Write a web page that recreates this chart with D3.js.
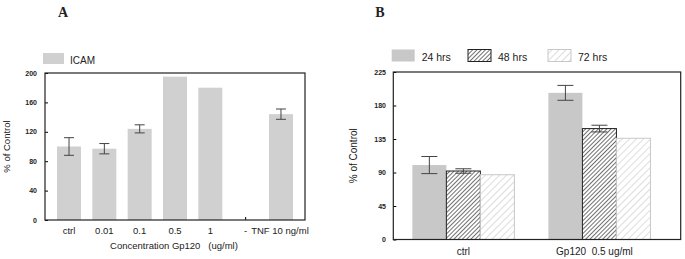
<!DOCTYPE html>
<html>
<head>
<meta charset="utf-8">
<script src="https://cdn.jsdelivr.net/npm/d3@7"></script>
<style>
  body { margin: 0; background: #fff; }
  svg text { font-family: "Liberation Sans", Arial, sans-serif; fill: #222; }
</style>
</head>
<body>
<svg id="chart" width="685" height="259"></svg>
<script>
// Panel A data
var catsA = ["ctrl", "0.01", "0.1", "0.5", "1", "-", "TNF 10 ng/ml"];
var valsA = [100, 97, 124, 195, 180, null, 144];
var errA = [12, 7, 5.5, null, null, null, 7];
var ticksA = [0, 40, 80, 120, 160, 200];

// Panel B data
var groupsB = ["ctrl", "Gp120  0.5 ug/ml"];
var seriesB = ["24 hrs", "48 hrs", "72 hrs"];
var vals24 = [100, 197];
var vals48 = [92, 149];
var vals72 = [87, 136];
var err24 = [11.5, 10];
var err48 = [3, 4.5];
var err72 = [null, null];
var ticksB = [0, 45, 90, 135, 180, 225];

var svg = d3.select("#chart");
var defs = svg.append("defs");

// hatch patterns
var p48 = defs.append("pattern").attr("id", "hatch48")
    .attr("patternUnits", "userSpaceOnUse").attr("width", 3).attr("height", 3)
    .attr("patternTransform", "rotate(45)");
p48.append("rect").attr("width", 3).attr("height", 3).attr("fill", "#fff");
p48.append("line").attr("x1", 0).attr("y1", 0).attr("x2", 0).attr("y2", 3)
    .attr("stroke", "#333").attr("stroke-width", 1.4);

var p72 = defs.append("pattern").attr("id", "hatch72")
    .attr("patternUnits", "userSpaceOnUse").attr("width", 5).attr("height", 5)
    .attr("patternTransform", "rotate(45)");
p72.append("rect").attr("width", 5).attr("height", 5).attr("fill", "#fff");
p72.append("line").attr("x1", 0).attr("y1", 0).attr("x2", 0).attr("y2", 5)
    .attr("stroke", "#bbb").attr("stroke-width", 1);

// ---------- Panel A ----------
var aLeft = 45, aRight = 305, aTop = 73, aBottom = 220;

var xA = d3.scaleBand()
    .domain(catsA)
    .range([aLeft, aRight])
    .paddingInner(0.32)
    .paddingOuter(0.34);

var yA = d3.scaleLinear().domain([0, 200]).range([aBottom, aTop]);

svg.append("text").attr("x", 63).attr("y", 17)
    .attr("text-anchor", "middle")
    .style("font-family", "'Liberation Serif', serif")
    .style("font-weight", "bold").style("font-size", "14px")
    .text("A");

// y axis with inward ticks
svg.append("g")
    .attr("transform", "translate(" + aLeft + ",0)")
    .call(d3.axisRight(yA).tickValues(ticksA).tickSize(3).tickFormat(""))
    .call(function(g) { g.select(".domain").remove(); });

svg.append("g").selectAll("text.ya")
    .data(ticksA).enter().append("text")
    .attr("x", 37).attr("y", function(d) { return yA(d) + 2.5; })
    .attr("text-anchor", "end")
    .style("font-size", "7px").style("font-weight", "bold")
    .text(function(d) { return d; });

// x tick (the empty slot shows one)
svg.append("g")
    .attr("transform", "translate(0," + aBottom + ")")
    .call(d3.axisTop(xA).tickSize(3).tickFormat(""))
    .call(function(g) { g.select(".domain").remove(); });

svg.append("g")
    .selectAll("rect")
    .data(catsA.filter(function(c, i) { return valsA[i] != null; }))
    .enter().append("rect")
    .attr("x", function(d) { return xA(d); })
    .attr("width", xA.bandwidth())
    .attr("y", function(d) { return yA(valsA[catsA.indexOf(d)]); })
    .attr("height", function(d) { return aBottom - yA(valsA[catsA.indexOf(d)]); })
    .attr("fill", "#d0d0d0");

// error bars A
catsA.forEach(function(c, i) {
    if (errA[i] == null) return;
    var cx = xA(c) + xA.bandwidth() / 2;
    var g = svg.append("g").attr("stroke", "#444").attr("stroke-width", 1);
    g.append("line").attr("x1", cx).attr("x2", cx)
        .attr("y1", yA(valsA[i] + errA[i])).attr("y2", yA(valsA[i] - errA[i]));
    [valsA[i] + errA[i], valsA[i] - errA[i]].forEach(function(v) {
        g.append("line").attr("x1", cx - 5).attr("x2", cx + 5)
            .attr("y1", yA(v)).attr("y2", yA(v));
    });
});

// frame A
svg.append("rect")
    .attr("x", aLeft).attr("y", aTop)
    .attr("width", aRight - aLeft).attr("height", aBottom - aTop)
    .attr("fill", "none").attr("stroke", "#222").attr("stroke-width", 1.2);

// x labels A
svg.append("g").selectAll("text")
    .data(catsA).enter().append("text")
    .attr("x", function(d) { return xA(d) + xA.bandwidth() / 2 + (d.indexOf("TNF") === 0 ? -1 : 0); })
    .attr("y", 234)
    .attr("text-anchor", "middle")
    .style("font-size", "9.5px")
    .text(function(d) { return d; });

svg.append("text").attr("x", 174).attr("y", 249)
    .attr("text-anchor", "middle").style("font-size", "9.5px")
    .attr("xml:space", "preserve")
    .text("Concentration Gp120   (ug/ml)");

svg.append("text")
    .attr("transform", "translate(10," + ((aTop + aBottom) / 2) + ") rotate(-90)")
    .attr("text-anchor", "middle").style("font-size", "9.5px")
    .text("% of Control");

// legend A
svg.append("rect").attr("x", 43).attr("y", 53).attr("width", 21).attr("height", 11)
    .attr("fill", "#d0d0d0");
svg.append("text").attr("x", 70).attr("y", 64).style("font-size", "10px").text("ICAM");

// ---------- Panel B ----------
var bLeft = 393.3, bRight = 680.7, bTop = 72, bBottom = 239.5;

var x0B = d3.scaleBand()
    .domain(groupsB)
    .range([bLeft, 669.5])
    .paddingInner(0.25)
    .paddingOuter(0.14);

var x1B = d3.scaleBand()
    .domain(seriesB)
    .range([0, x0B.bandwidth()]);

var yB = d3.scaleLinear().domain([0, 225]).range([bBottom, bTop]);

var valsB = { "24 hrs": vals24, "48 hrs": vals48, "72 hrs": vals72 };
var errB = { "24 hrs": err24, "48 hrs": err48, "72 hrs": err72 };
var fillB = { "24 hrs": "#c8c8c8", "48 hrs": "url(#hatch48)", "72 hrs": "url(#hatch72)" };
var strokeB = { "24 hrs": "none", "48 hrs": "#222", "72 hrs": "#c8c8c8" };

svg.append("text").attr("x", 380).attr("y", 17)
    .attr("text-anchor", "middle")
    .style("font-family", "'Liberation Serif', serif")
    .style("font-weight", "bold").style("font-size", "14px")
    .text("B");

svg.append("g")
    .attr("transform", "translate(" + bLeft + ",0)")
    .call(d3.axisRight(yB).tickValues(ticksB).tickSize(3).tickFormat(""))
    .call(function(g) { g.select(".domain").remove(); });

svg.append("g").selectAll("text")
    .data(ticksB).enter().append("text")
    .attr("x", 386).attr("y", function(d) { return yB(d) + 2.5; })
    .attr("text-anchor", "end")
    .style("font-size", "7px").style("font-weight", "bold")
    .text(function(d) { return d; });

var groupG = svg.append("g").selectAll("g")
    .data(groupsB).enter().append("g")
    .attr("transform", function(d) { return "translate(" + x0B(d) + ",0)"; });

groupG.selectAll("rect")
    .data(function(g, gi) {
        return seriesB.map(function(s) { return { key: s, value: valsB[s][gi], err: errB[s][gi] }; });
    })
    .enter().append("rect")
    .attr("x", function(d) { return x1B(d.key); })
    .attr("width", x1B.bandwidth())
    .attr("y", function(d) { return yB(d.value); })
    .attr("height", function(d) { return bBottom - yB(d.value); })
    .attr("fill", function(d) { return fillB[d.key]; })
    .attr("stroke", function(d) { return strokeB[d.key]; })
    .attr("stroke-width", 1);

groupsB.forEach(function(gname, gi) {
    seriesB.forEach(function(s) {
        var e = errB[s][gi];
        if (e == null) return;
        var v = valsB[s][gi];
        var cx = x0B(gname) + x1B(s) + x1B.bandwidth() / 2;
        var g = svg.append("g").attr("stroke", "#444").attr("stroke-width", 1);
        g.append("line").attr("x1", cx).attr("x2", cx)
            .attr("y1", yB(v + e)).attr("y2", yB(v - e));
        [v + e, v - e].forEach(function(t) {
            g.append("line").attr("x1", cx - 8).attr("x2", cx + 8)
                .attr("y1", yB(t)).attr("y2", yB(t));
        });
    });
});

svg.append("rect")
    .attr("x", bLeft).attr("y", bTop)
    .attr("width", bRight - bLeft).attr("height", bBottom - bTop)
    .attr("fill", "none").attr("stroke", "#222").attr("stroke-width", 1.2);

svg.append("g").selectAll("text")
    .data(groupsB).enter().append("text")
    .attr("x", function(d) { return x0B(d) + x0B.bandwidth() / 2 + (d === "ctrl" ? 0 : -5); })
    .attr("y", 255)
    .attr("text-anchor", "middle").style("font-size", "10px")
    .attr("xml:space", "preserve")
    .text(function(d) { return d; });

svg.append("text")
    .attr("transform", "translate(357," + ((bTop + bBottom) / 2) + ") rotate(-90)")
    .attr("text-anchor", "middle").style("font-size", "10px")
    .text("% of Control");

// legend B
var legX = [391.7, 468, 548];
seriesB.forEach(function(s, i) {
    svg.append("rect").attr("x", legX[i]).attr("y", 49.5).attr("width", 23).attr("height", 12)
        .attr("fill", fillB[s]).attr("stroke", strokeB[s]).attr("stroke-width", 1);
    svg.append("text").attr("x", legX[i] + 30).attr("y", 61)
        .style("font-size", "10.5px").text(s);
});
</script>
</body>
</html>
